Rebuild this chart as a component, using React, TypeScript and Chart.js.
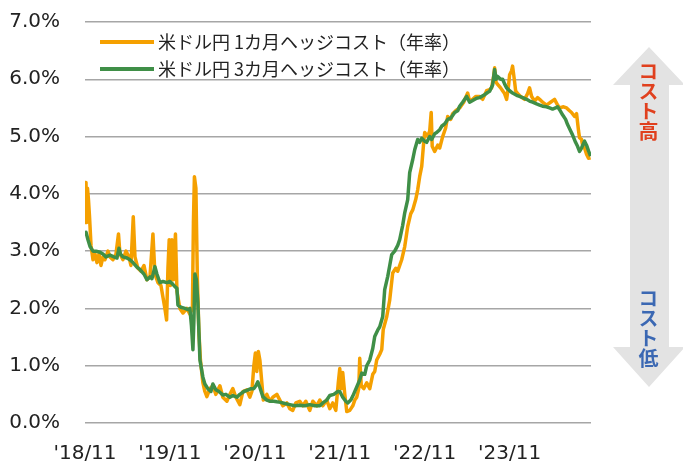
import React, { useEffect, useRef } from "react";
import { Chart, registerables } from "chart.js";

Chart.register(...registerables);

// months elapsed since Nov 2018
const months1M = [0.0,0.14,0.24,0.35,0.49,0.64,0.85,1.13,1.41,1.69,1.98,2.26,2.54,2.82,3.25,3.53,3.95,4.38,4.73,4.94,5.36,5.79,6.21,6.49,6.82,7.06,7.48,7.91,8.33,8.75,9.18,9.6,9.88,10.31,10.73,11.01,11.29,11.53,11.72,11.9,12.07,12.28,12.49,12.78,12.99,13.41,13.84,14.4,14.82,15.18,15.32,15.46,15.67,15.88,16.09,16.31,16.66,16.94,17.22,17.65,18.07,18.49,19.06,19.48,20.05,20.47,20.89,21.32,21.88,22.31,22.87,23.29,23.58,23.86,24.07,24.28,24.49,24.71,24.99,25.2,25.69,26.12,26.54,27.11,27.53,27.95,28.52,28.94,29.36,29.79,30.35,30.78,31.2,31.76,32.19,32.75,33.18,33.6,34.16,34.59,35.01,35.44,35.79,36.0,36.21,36.42,36.71,36.99,37.41,37.84,38.12,38.4,38.68,38.82,39.04,39.39,39.81,40.24,40.66,40.94,41.22,41.65,41.93,42.14,42.64,43.06,43.48,43.91,44.19,44.75,45.18,45.6,46.02,46.31,46.73,47.01,47.29,47.58,47.86,48.0,48.42,48.71,48.92,49.06,49.41,49.84,50.12,50.54,50.96,51.25,51.67,51.95,52.38,52.94,53.51,54.07,54.35,54.78,55.2,55.76,56.19,56.75,57.18,57.46,57.74,57.88,58.09,58.31,58.73,59.01,59.29,59.58,59.86,60.0,60.28,60.42,60.71,60.85,61.13,61.55,62.12,62.54,62.82,63.11,63.53,63.95,64.24,64.66,65.22,65.79,66.35,66.78,67.06,67.62,68.05,68.47,68.75,69.18,69.46,69.74,69.88,70.16,70.31,70.59,70.87,71.15,71.44];
const rate1M = [3.5,4.2,3.5,4.1,3.9,3.6,3.1,2.85,2.95,2.8,2.95,2.75,2.9,2.85,3.0,2.9,2.85,2.95,3.3,2.95,2.85,3.0,2.9,2.75,3.6,2.9,2.7,2.65,2.75,2.5,2.55,3.3,2.6,2.45,2.4,2.2,2.0,1.8,2.7,3.2,2.4,3.2,2.5,3.3,2.3,2.0,1.92,2.0,1.9,2.0,3.5,4.3,4.1,2.5,1.6,1.1,0.7,0.55,0.46,0.6,0.65,0.5,0.65,0.45,0.38,0.5,0.6,0.45,0.32,0.55,0.58,0.45,0.55,1.0,1.22,0.9,1.25,1.1,0.7,0.4,0.5,0.38,0.45,0.5,0.4,0.3,0.35,0.25,0.22,0.35,0.38,0.3,0.38,0.22,0.38,0.3,0.4,0.3,0.4,0.25,0.35,0.22,0.7,0.95,0.6,0.88,0.5,0.2,0.22,0.3,0.4,0.45,0.6,1.13,0.65,0.6,0.7,0.6,0.85,0.9,1.1,1.2,1.28,1.63,1.86,2.15,2.62,2.7,2.65,2.85,3.08,3.43,3.65,3.72,3.9,4.07,4.3,4.48,4.9,5.07,5.0,5.1,5.42,4.83,4.74,4.85,4.8,5.0,5.15,5.35,5.3,5.4,5.45,5.5,5.6,5.76,5.62,5.65,5.7,5.7,5.65,5.8,5.82,5.85,6.05,6.2,5.95,5.91,5.85,5.8,5.75,5.65,5.9,6.08,6.15,6.23,5.95,5.8,5.75,5.7,5.65,5.75,5.85,5.7,5.62,5.68,5.65,5.6,5.55,5.6,5.65,5.55,5.5,5.52,5.5,5.45,5.42,5.35,5.4,5.1,4.98,4.95,4.85,4.8,4.69,4.62,4.63];

const months3M = [0,0.14,0.42,0.71,1.13,1.55,2.12,2.54,2.96,3.53,4.09,4.52,4.8,5.01,5.36,5.93,6.35,6.78,7.34,7.76,8.33,8.75,9.18,9.46,9.88,10.16,10.59,11.01,11.58,12.0,12.42,12.71,12.99,13.13,13.55,14.12,14.54,14.82,15.04,15.25,15.39,15.53,15.74,15.95,16.24,16.66,16.94,17.36,17.79,18.07,18.49,18.92,19.48,19.91,20.47,20.89,21.46,21.88,22.45,22.87,23.44,23.86,24.14,24.42,24.71,25.13,25.69,26.12,26.68,27.11,27.67,28.24,28.94,29.65,30.35,31.06,31.76,32.47,33.18,33.6,34.16,34.59,35.15,35.72,36.0,36.42,36.85,37.13,37.55,37.84,38.4,38.82,39.11,39.53,39.81,40.24,40.66,40.94,41.36,41.65,42.07,42.35,42.78,43.06,43.34,43.76,44.19,44.47,44.89,45.18,45.6,45.88,46.31,46.59,47.01,47.29,47.58,48.0,48.28,48.71,48.99,49.41,49.69,50.12,50.4,50.82,51.25,51.67,52.24,52.66,52.94,53.36,53.93,54.35,54.78,55.34,55.76,56.33,56.89,57.18,57.6,57.88,58.09,58.31,58.73,59.01,59.29,59.58,60.0,60.42,60.99,61.41,61.84,62.4,62.82,63.25,63.81,64.24,64.66,65.22,65.65,66.07,66.49,66.78,67.06,67.48,67.91,68.19,68.61,68.89,69.32,69.6,69.88,70.16,70.59,70.87,71.15,71.44];
const rate3M = [3.3,3.33,3.2,3.08,3.0,3.0,2.98,2.95,2.9,2.93,2.9,2.88,3.05,2.95,2.9,2.88,2.85,2.8,2.72,2.68,2.6,2.5,2.55,2.52,2.73,2.6,2.45,2.47,2.45,2.47,2.42,2.38,2.35,2.06,2.02,2.0,1.98,2.0,1.7,1.28,1.8,2.6,2.5,2.1,1.1,0.8,0.68,0.6,0.55,0.68,0.58,0.55,0.49,0.5,0.45,0.48,0.45,0.5,0.55,0.57,0.6,0.6,0.65,0.72,0.62,0.46,0.4,0.38,0.38,0.37,0.36,0.34,0.32,0.3,0.31,0.3,0.32,0.3,0.3,0.35,0.4,0.48,0.5,0.55,0.55,0.45,0.38,0.35,0.4,0.47,0.63,0.75,0.87,0.85,1.0,1.1,1.3,1.51,1.62,1.68,1.86,2.33,2.56,2.75,2.94,3.0,3.1,3.2,3.45,3.67,3.9,4.37,4.6,4.77,4.95,4.9,4.97,4.92,4.9,5.0,4.95,5.05,5.07,5.12,5.18,5.22,5.3,5.32,5.42,5.45,5.53,5.6,5.7,5.6,5.63,5.67,5.68,5.72,5.77,5.79,5.9,6.17,6.0,6.05,6.0,6.0,5.92,5.85,5.8,5.76,5.72,5.7,5.68,5.65,5.62,5.6,5.57,5.55,5.53,5.52,5.5,5.48,5.5,5.52,5.47,5.38,5.3,5.21,5.1,5.03,4.9,4.83,4.74,4.8,4.92,4.85,4.75,4.66];

const xTickLabels = ["'18/11", "'19/11", "'20/11", "'21/11", "'22/11", "'23/11"];
const seriesLabels = ["米ドル円 1カ月ヘッジコスト（年率）", "米ドル円 3カ月ヘッジコスト（年率）"];
const seriesColors = ["#F5A000", "#3F8F47"];
const costHigh = "コスト高";
const costLow = "コスト低";

const legendPlugin = {
  id: "innerLegend",
  afterDraw(chart: any) {
    const ctx = chart.ctx;
    const area = chart.chartArea;
    ctx.save();
    ctx.font = '18px "Noto Sans CJK JP", sans-serif';
    ctx.textBaseline = "middle";
    [0, 1].forEach((i, k) => {
      const ds = chart.data.datasets[i];
      const y = area.top + 20 + k * 27;
      const x0 = area.left + 15;
      ctx.strokeStyle = ds.borderColor;
      ctx.lineWidth = 4;
      ctx.beginPath();
      ctx.moveTo(x0, y);
      ctx.lineTo(x0 + 54, y);
      ctx.stroke();
      ctx.fillStyle = "#222";
      ctx.fillText(ds.label, x0 + 58, y);
    });
    ctx.restore();
  },
};

export default function App() {
  const ref = useRef<HTMLCanvasElement>(null);
  useEffect(() => {
    const canvas = ref.current!;
    const mk = (xs: number[], ys: number[]) => xs.map((x, i) => ({ x, y: ys[i] }));
    const chart = new Chart(canvas, {
      type: "line",
      data: {
        datasets: [
          {
            label: seriesLabels[0],
            data: mk(months1M, rate1M),
            borderColor: seriesColors[0],
            backgroundColor: seriesColors[0],
            borderWidth: 3.5,
            pointRadius: 0,
            tension: 0,
            borderJoinStyle: "round",
            order: 2,
          },
          {
            label: seriesLabels[1],
            data: mk(months3M, rate3M),
            borderColor: seriesColors[1],
            backgroundColor: seriesColors[1],
            borderWidth: 3.5,
            pointRadius: 0,
            tension: 0,
            borderJoinStyle: "round",
            order: 1,
          },
        ],
      },
      options: {
        animation: false,
        responsive: false,
        devicePixelRatio: 1,
        layout: { padding: { left: 0, top: 22, right: 92, bottom: 0 } },
        plugins: { legend: { display: false }, tooltip: { enabled: false } },
        scales: {
          x: {
            type: "linear",
            min: 0,
            max: 71.5,
            grid: { display: false, drawTicks: false },
            border: { display: false },
            ticks: {
              stepSize: 12,
              includeBounds: false,
              autoSkip: false,
              maxRotation: 0,
              padding: 19,
              color: "#222",
              font: { family: '"DejaVu Sans", sans-serif', size: 20 },
              callback: (v: any) => (v % 12 === 0 ? xTickLabels[v / 12] ?? "" : ""),
            },
            afterFit: (s: any) => { s.height = 45; s.paddingLeft = 0; s.paddingRight = 0; },
          },
          y: {
            min: 0,
            max: 7,
            grid: { color: "#A6A6A6", lineWidth: 1.5, drawTicks: false },
            border: { display: false },
            ticks: {
              stepSize: 1,
              padding: 25,
              color: "#222",
              font: { family: '"DejaVu Sans", sans-serif', size: 20 },
              callback: (v: any) => Number(v).toFixed(1) + "%",
            },
            afterFit: (s: any) => { s.width = 85; s.paddingTop = 0; s.paddingBottom = 0; },
          },
        },
      },
      plugins: [legendPlugin],
    });
    return () => chart.destroy();
  }, []);

  const vText: React.CSSProperties = {
    position: "absolute",
    writingMode: "vertical-rl",
    fontFamily: '"Noto Sans CJK JP", sans-serif',
    fontWeight: 700,
    fontSize: 20,
    lineHeight: "20px",
    width: 20,
    left: 638,
  };

  return (
    <div style={{ position: "fixed", left: 0, top: 0, width: 683, height: 468, background: "#fff", overflow: "hidden" }}>
      <svg width={683} height={468} style={{ position: "absolute", left: 0, top: 0 }}>
        <polygon
          points="649,47 685,85 669,85 669,347 685,347 649,387 613,347 630,347 630,85 613,85"
          fill="#E3E3E3"
        />
      </svg>
      <canvas ref={ref} width={683} height={468} style={{ position: "absolute", left: 0, top: 0 }} />
      <div style={{ ...vText, top: 61, color: "#E0401E" }}>{costHigh}</div>
      <div style={{ ...vText, top: 288, color: "#3B68B3" }}>{costLow}</div>
    </div>
  );
}
